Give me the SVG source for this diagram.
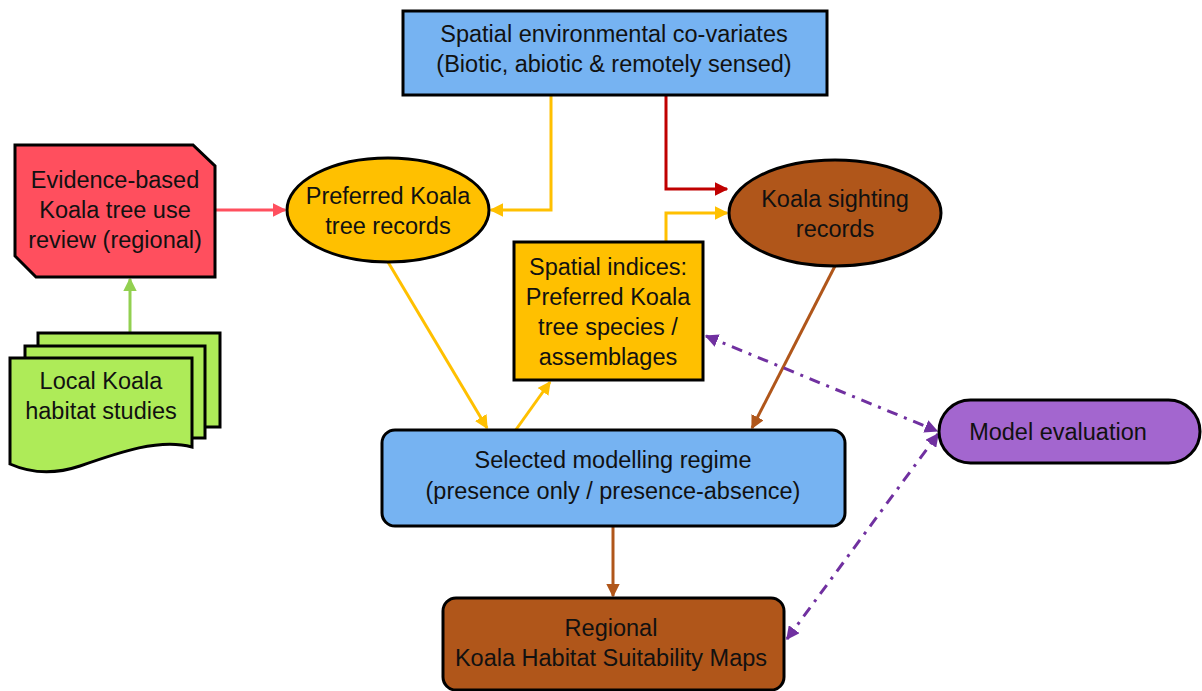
<svg xmlns="http://www.w3.org/2000/svg" width="1202" height="691" viewBox="0 0 1202 691">
<style>
text{font-family:"Liberation Sans",Arial,sans-serif;font-size:23.5px;fill:#111;text-anchor:middle}
.n{stroke:#000;stroke-width:3}
.c{fill:none;stroke-width:3}
.y{stroke:#FFC000}
.pd{stroke:#7030A0;stroke-dasharray:11 7 3 7}
</style>
<defs>
<marker id="ay" viewBox="0 0 10 10" refX="9" refY="5" markerWidth="4.5" markerHeight="4.5" orient="auto-start-reverse" markerUnits="strokeWidth"><path d="M0,0 L10,5 L0,10 z" fill="#FFC000"/></marker>
<marker id="ar" viewBox="0 0 10 10" refX="9" refY="5" markerWidth="4.5" markerHeight="4.5" orient="auto" markerUnits="strokeWidth"><path d="M0,0 L10,5 L0,10 z" fill="#C00000"/></marker>
<marker id="ap" viewBox="0 0 10 10" refX="9" refY="5" markerWidth="4.5" markerHeight="4.5" orient="auto" markerUnits="strokeWidth"><path d="M0,0 L10,5 L0,10 z" fill="#FF4F5E"/></marker>
<marker id="ag" viewBox="0 0 10 10" refX="9" refY="5" markerWidth="4.5" markerHeight="4.5" orient="auto" markerUnits="strokeWidth"><path d="M0,0 L10,5 L0,10 z" fill="#92D050"/></marker>
<marker id="ab" viewBox="0 0 10 10" refX="9" refY="5" markerWidth="4.5" markerHeight="4.5" orient="auto" markerUnits="strokeWidth"><path d="M0,0 L10,5 L0,10 z" fill="#B0561A"/></marker>
<marker id="av" viewBox="0 0 10 10" refX="9" refY="5" markerWidth="4.5" markerHeight="4.5" orient="auto-start-reverse" markerUnits="strokeWidth"><path d="M0,0 L10,5 L0,10 z" fill="#7030A0"/></marker>
</defs>

<g id="connectors">
<path class="c" stroke="#FF4F5E" d="M215,210 H285" marker-end="url(#ap)"/>
<path class="c" stroke="#92D050" d="M130,333 V279" marker-end="url(#ag)"/>
<path class="c y" d="M551,95 V210 H491" marker-end="url(#ay)"/>
<path class="c" stroke="#C00000" d="M666,95 V189 H727" marker-end="url(#ar)"/>
<path class="c y" d="M666,241 V213 H727" marker-end="url(#ay)"/>
<path class="c y" d="M388,262 L487,428" marker-end="url(#ay)"/>
<path class="c y" d="M515,431 L550,382" marker-end="url(#ay)"/>
<path class="c" stroke="#B0561A" d="M835,266 L752,428" marker-end="url(#ab)"/>
<path class="c" stroke="#B0561A" d="M613,526 V596" marker-end="url(#ab)"/>
<path class="c pd" d="M706,336 L937,431" marker-start="url(#av)" marker-end="url(#av)"/>
<path class="c pd" d="M787,639 L938,434" marker-start="url(#av)" marker-end="url(#av)"/>
</g>

<g id="covariates">
<rect class="n" x="403" y="11" width="424" height="84" fill="#76B3F2"/>
<text x="614" y="42">Spatial environmental co-variates</text>
<text x="614" y="72">(Biotic, abiotic &amp; remotely sensed)</text>
</g>

<g id="evidence">
<path class="n" d="M15,145 H193 L215,166 V277 H36 L15,256 Z" fill="#FF4F5E"/>
<text x="115" y="188">Evidence-based</text>
<text x="115" y="218">Koala tree use</text>
<text x="115" y="248">review (regional)</text>
</g>

<g id="local-studies">
<rect class="n" x="38" y="333" width="182" height="94" fill="#AEEB58"/>
<rect class="n" x="25" y="346" width="180" height="92" fill="#AEEB58"/>
<path class="n" d="M10,358 H192 V447 C160,438 120,452 80,466 C50,476 28,472 10,464 Z" fill="#AEEB58"/>
<text x="101" y="389">Local Koala</text>
<text x="101" y="419">habitat studies</text>
</g>

<g id="preferred-tree-records">
<ellipse class="n" cx="388" cy="210" rx="101" ry="52" fill="#FFC000"/>
<text x="388" y="204">Preferred Koala</text>
<text x="388" y="234">tree records</text>
</g>

<g id="sighting-records">
<ellipse class="n" cx="835" cy="213" rx="106" ry="53" fill="#B0561A"/>
<text x="835" y="207">Koala sighting</text>
<text x="835" y="237">records</text>
</g>

<g id="spatial-indices">
<rect class="n" x="514" y="242" width="189" height="138" fill="#FFC000"/>
<text x="608" y="275">Spatial indices:</text>
<text x="608" y="305">Preferred Koala</text>
<text x="608" y="335">tree species /</text>
<text x="608" y="365">assemblages</text>
</g>

<g id="model-evaluation">
<rect class="n" x="939" y="400" width="261" height="63" rx="31.5" fill="#A366CF"/>
<text x="1058" y="440">Model evaluation</text>
</g>

<g id="modelling-regime">
<rect class="n" x="382" y="430" width="463" height="96" rx="13" fill="#76B3F2"/>
<text x="613" y="468">Selected modelling regime</text>
<text x="613" y="499">(presence only / presence-absence)</text>
</g>

<g id="suitability-maps">
<rect class="n" x="443" y="598" width="341" height="92" rx="13" fill="#B0561A"/>
<text x="611" y="636">Regional</text>
<text x="611" y="666">Koala Habitat Suitability Maps</text>
</g>
</svg>
